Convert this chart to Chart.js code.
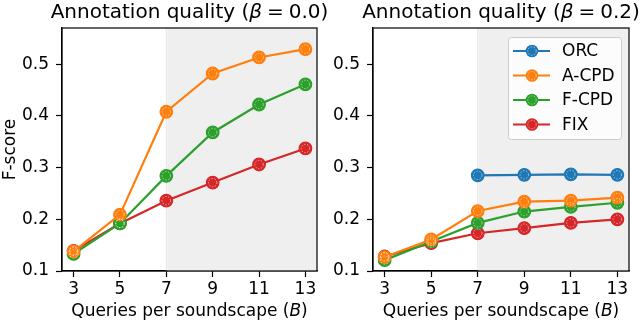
<!DOCTYPE html>
<html>
<head>
<meta charset="utf-8">
<script src="https://cdn.jsdelivr.net/npm/chart.js@4.4.1/dist/chart.umd.min.js"></script>
<style>
  body { margin: 0; background: #fff; }
  .wrap { position: relative; width: 640px; height: 323px; overflow: hidden; }
  #left { position: absolute; left: 0; top: 0; }
  #right { position: absolute; left: 320px; top: 0; }
</style>
</head>
<body>
<div class="wrap">
  <canvas id="left" width="335" height="323"></canvas>
  <canvas id="right" width="320" height="323"></canvas>
</div>
<script>
const queries = [3, 5, 7, 9, 11, 13]
const yTicks = [0.1, 0.2, 0.3, 0.4, 0.5]
const shadeFrom = 7

// beta = 0.0
const acpdB0 = [0.138, 0.209, 0.408, 0.482, 0.513, 0.529]
const fcpdB0 = [0.133, 0.192, 0.284, 0.368, 0.422, 0.461]
const fixB0 = [0.139, 0.192, 0.236, 0.271, 0.306, 0.337]

// beta = 0.2
const orcB2 = [null, null, 0.285, 0.286, 0.287, 0.286]
const acpdB2 = [0.127, 0.161, 0.216, 0.234, 0.236, 0.242]
const fcpdB2 = [0.121, 0.157, 0.193, 0.215, 0.224, 0.232]
const fixB2 = [0.128, 0.154, 0.173, 0.183, 0.193, 0.2]

const COLORS = { ORC: "#1f77b4", "A-CPD": "#ff7f0e", "F-CPD": "#2ca02c", FIX: "#d62728" }
const FONT = "'DejaVu Sans', sans-serif"

const toPoints = (vals) => queries.map((x, i) => ({ x, y: vals[i] })).filter((p) => p.y !== null)

const makeDataset = (label, vals) => ({
  label,
  data: toPoints(vals),
  borderColor: COLORS[label],
  backgroundColor: COLORS[label],
  borderWidth: 2.2,
  pointRadius: 6.3,
  pointHoverRadius: 6.3,
  pointBorderWidth: 1.2,
  pointBackgroundColor: COLORS[label],
})

// text made of plain / italic pieces, centred on cx
const drawRuns = (ctx, runs, cx, baseline, size) => {
  const fontOf = (r) => `${r.it ? "italic " : ""}${size}px ${FONT}`
  let total = 0
  runs.forEach((r) => {
    ctx.font = fontOf(r)
    total += ctx.measureText(r.t).width + (r.gap || 0) * 2
  })
  let x = cx - total / 2
  ctx.save()
  ctx.fillStyle = "#000"
  ctx.textBaseline = "alphabetic"
  runs.forEach((r) => {
    ctx.font = fontOf(r)
    x += r.gap || 0
    ctx.fillText(r.t, x, baseline)
    x += ctx.measureText(r.t).width + (r.gap || 0)
  })
  ctx.restore()
}

const titles = {
  id: "titles",
  afterDraw(chart, args, opts) {
    const { ctx, chartArea } = chart
    const cx = (chartArea.left + chartArea.right) / 2
    drawRuns(ctx, [
      { t: "Annotation quality (" },
      { t: "β", it: true },
      { t: "=", gap: 5 },
      { t: `${opts.beta})` },
    ], cx, 17.5, 20)
    drawRuns(ctx, [
      { t: "Queries per soundscape (" },
      { t: "B", it: true },
      { t: ")" },
    ], cx, 316, 17)
  },
}

// grey band + frame
const shading = {
  id: "shading",
  beforeDatasetsDraw(chart) {
    const { ctx, chartArea, scales } = chart
    const x0 = scales.x.getPixelForValue(shadeFrom)
    ctx.save()
    ctx.fillStyle = "#efefef"
    ctx.fillRect(x0 + 1, chartArea.top, chartArea.right - x0 - 1, chartArea.bottom - chartArea.top)
    ctx.fillStyle = "#e4e4e4"
    ctx.fillRect(x0 - 0.5, chartArea.top, 1, chartArea.bottom - chartArea.top)
    ctx.restore()
  },
  afterDraw(chart) {
    const { ctx, chartArea } = chart
    ctx.save()
    ctx.strokeStyle = "#000"
    ctx.lineWidth = 1.2
    ctx.strokeRect(chartArea.left, chartArea.top, chartArea.right - chartArea.left, chartArea.bottom - chartArea.top)
    ctx.restore()
  },
}

// the light dashed ring inside each marker
const drawRing = (ctx, x, y) => {
  ctx.save()
  ctx.strokeStyle = "rgba(255,255,255,0.55)"
  ctx.lineWidth = 1
  ctx.setLineDash([1.5, 1.5])
  ctx.beginPath()
  ctx.arc(x, y, 4.2, 0, Math.PI * 2)
  ctx.stroke()
  ctx.restore()
}

const rings = {
  id: "rings",
  afterDatasetsDraw(chart) {
    chart.data.datasets.forEach((ds, i) => {
      chart.getDatasetMeta(i).data.forEach((pt) => drawRing(chart.ctx, pt.x, pt.y))
    })
  },
}

const legendBox = {
  id: "legendBox",
  afterDraw(chart) {
    const { ctx, chartArea } = chart
    const w = 113, h = 102
    const bx = chartArea.right - 8 - w
    const by = chartArea.top + 9
    ctx.save()
    ctx.fillStyle = "rgba(255,255,255,0.8)"
    ctx.strokeStyle = "#cccccc"
    ctx.lineWidth = 1
    ctx.beginPath()
    ctx.roundRect(bx + 0.5, by + 0.5, w, h, 3)
    ctx.fill()
    ctx.stroke()
    chart.data.datasets.forEach((ds, i) => {
      const y = by + 14 + i * 24.5
      ctx.strokeStyle = ds.borderColor
      ctx.lineWidth = 2.2
      ctx.beginPath()
      ctx.moveTo(bx + 5, y)
      ctx.lineTo(bx + 42, y)
      ctx.stroke()
      ctx.fillStyle = ds.borderColor
      ctx.beginPath()
      ctx.arc(bx + 24, y, 6.3, 0, Math.PI * 2)
      ctx.fill()
      drawRing(ctx, bx + 24, y)
      ctx.fillStyle = "#000"
      ctx.font = `17px ${FONT}`
      ctx.textBaseline = "middle"
      ctx.fillText(ds.label, bx + 54, y + 1)
    })
    ctx.restore()
  },
}

const makeConfig = ({ beta, datasets, yTitle, yWidth, padRight, extraPlugins }) => ({
  type: "line",
  data: { datasets },
  options: {
    responsive: false,
    animation: false,
    devicePixelRatio: 1,
    layout: { padding: { left: 0, right: padRight, top: 28, bottom: 0 } },
    plugins: {
      legend: { display: false },
      tooltip: { enabled: false },
      title: { display: false },
      titles: { beta },
    },
    scales: {
      x: {
        type: "linear",
        min: 2.5,
        max: 13.5,
        afterBuildTicks: (axis) => { axis.ticks = queries.map((v) => ({ value: v })) },
        afterFit: (axis) => { axis.height = 52 },
        grid: { drawOnChartArea: false, drawTicks: true, tickLength: 6, tickWidth: 1.2, tickColor: "#000" },
        border: { display: true, color: "#000", width: 1.2 },
        ticks: { color: "#000", font: { family: FONT, size: 17 }, padding: 2, maxRotation: 0, callback: (v) => String(v) },
      },
      y: {
        min: 0.1,
        max: 0.57,
        afterBuildTicks: (axis) => { axis.ticks = yTicks.map((v) => ({ value: v })) },
        afterFit: (axis) => { axis.width = yWidth },
        grid: { drawOnChartArea: false, drawTicks: true, tickLength: 6, tickWidth: 1.2, tickColor: "#000" },
        border: { display: true, color: "#000", width: 1.2 },
        ticks: { color: "#000", font: { family: FONT, size: 17 }, padding: 7, callback: (v) => v.toFixed(1) },
        title: { display: !!yTitle, text: yTitle || "", color: "#000", font: { family: FONT, size: 17 }, padding: { top: 0, bottom: 0 } },
      },
    },
  },
  plugins: [shading, rings, titles, ...extraPlugins],
})

new Chart(document.getElementById("left"), makeConfig({
  beta: "0.0",
  datasets: [makeDataset("A-CPD", acpdB0), makeDataset("F-CPD", fcpdB0), makeDataset("FIX", fixB0)],
  yTitle: "F-score",
  yWidth: 62,
  padRight: 18,
  extraPlugins: [],
}))

new Chart(document.getElementById("right"), makeConfig({
  beta: "0.2",
  datasets: [makeDataset("ORC", orcB2), makeDataset("A-CPD", acpdB2), makeDataset("F-CPD", fcpdB2), makeDataset("FIX", fixB2)],
  yTitle: null,
  yWidth: 53,
  padRight: 11,
  extraPlugins: [legendBox],
}))
</script>
</body>
</html>
